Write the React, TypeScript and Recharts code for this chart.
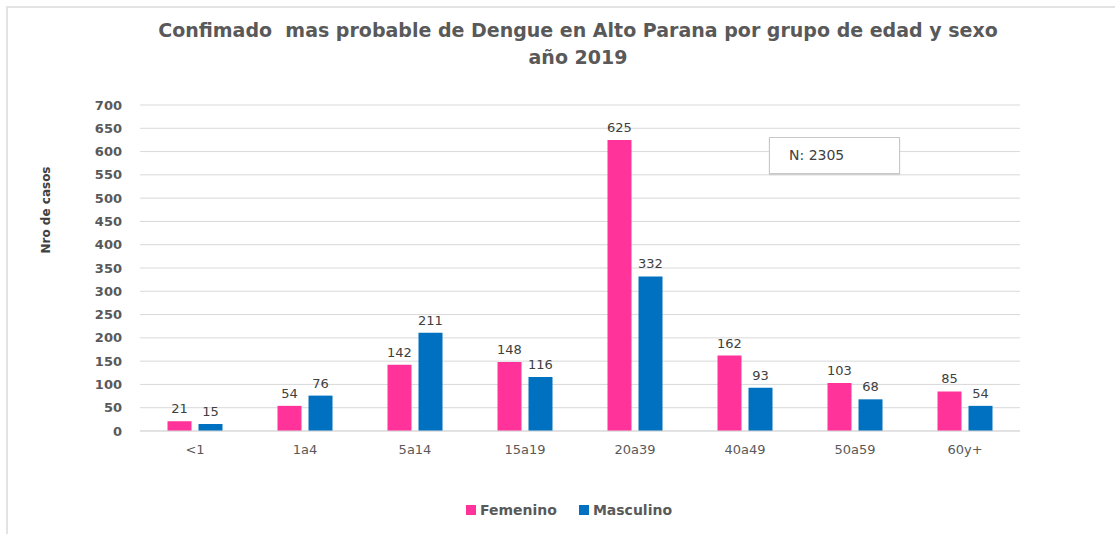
import React from "react";
import { BarChart, Bar, XAxis, YAxis, CartesianGrid, LabelList } from "recharts";

const categories = ["<1", "1a4", "5a14", "15a19", "20a39", "40a49", "50a59", "60y+"];
const femenino = [21, 54, 142, 148, 625, 162, 103, 85];
const masculino = [15, 76, 211, 116, 332, 93, 68, 54];
const yTicks = [0, 50, 100, 150, 200, 250, 300, 350, 400, 450, 500, 550, 600, 650, 700];
const titleLines = ["Confimado  mas probable de Dengue en Alto Parana por grupo de edad y sexo", "año 2019"];
const yLabel = "Nro de casos";
const noteText = "N: 2305";
const series = [
  { key: "Femenino", values: femenino, color: "#FF3399" },
  { key: "Masculino", values: masculino, color: "#0070C0" },
];

const data = categories.map((c, i) => {
  const row: Record<string, string | number> = { name: c };
  series.forEach((s) => {
    row[s.key] = s.values[i];
  });
  return row;
});

const FONT = "'DejaVu Sans', sans-serif";

export default function App() {
  return (
    <div style={{ position: "absolute", left: 0, top: 0, width: 1115, height: 534, background: "#fff", overflow: "hidden" }}>
      <div
        style={{
          position: "absolute",
          left: 6,
          top: 6,
          width: 1115,
          height: 540,
          borderTop: "2px solid #e3e3e3",
          borderLeft: "2px solid #e3e3e3",
        }}
      />
      <div
        style={{
          position: "absolute",
          left: 0,
          top: 17,
          width: 1156,
          textAlign: "center",
          fontFamily: FONT,
          fontWeight: "bold",
          fontSize: 19,
          lineHeight: "27px",
          color: "#595959",
          whiteSpace: "pre",
        }}
      >
        {titleLines.map((t) => (
          <div key={t}>{t}</div>
        ))}
      </div>
      <BarChart
        width={1115}
        height={534}
        data={data}
        margin={{ top: 105, right: 95, bottom: 73, left: 0 }}
        barCategoryGap="25%"
        barGap={7}
        style={{ position: "absolute", left: 0, top: 0 }}
      >
        <CartesianGrid vertical={false} stroke="#d9d9d9" strokeWidth={1} />
        <XAxis
          dataKey="name"
          height={30}
          tickLine={false}
          tickSize={0}
          tickMargin={14}
          axisLine={{ stroke: "#d9d9d9" }}
          tick={{ fill: "#595959", fontSize: 13, fontFamily: FONT }}
          interval={0}
        />
        <YAxis
          width={140}
          domain={[0, 700]}
          ticks={yTicks}
          interval={0}
          tickLine={false}
          axisLine={false}
          tickSize={0}
          tickMargin={18}
          tick={{ fill: "#595959", fontSize: 13, fontFamily: FONT, fontWeight: "bold" }}
          label={{
            value: yLabel,
            angle: -90,
            position: "insideLeft",
            offset: 46,
            dy: -58,
            style: { fill: "#404040", fontSize: 12, fontWeight: "bold", fontFamily: FONT, textAnchor: "middle" },
          }}
        />
        {series.map((s) => (
          <Bar key={s.key} dataKey={s.key} fill={s.color} isAnimationActive={false}>
            <LabelList
              dataKey={s.key}
              position="top"
              offset={8}
              style={{ fill: "#404040", fontSize: 13, fontFamily: FONT }}
            />
          </Bar>
        ))}
      </BarChart>
      <div
        style={{
          position: "absolute",
          left: 769,
          top: 137,
          height: 35,
          border: "1px solid #c8c8c8",
          boxShadow: "0 1px 1px #d0d0d0",
          background: "#fff",
          fontFamily: FONT,
          fontSize: 14,
          color: "#404040",
          lineHeight: "35px",
          paddingLeft: 19,
          boxSizing: "content-box",
          width: 110,
        }}
      >
        {noteText}
      </div>
      <div
        style={{
          position: "absolute",
          left: 0,
          top: 502,
          width: 1138,
          display: "flex",
          justifyContent: "center",
          fontFamily: FONT,
          fontWeight: "bold",
          fontSize: 14,
          color: "#595959",
        }}
      >
        {series.map((s) => (
          <div key={s.key} style={{ display: "flex", alignItems: "center", margin: "0 11px" }}>
            <span style={{ display: "inline-block", width: 10, height: 10, background: s.color, marginRight: 4 }} />
            <span>{s.key}</span>
          </div>
        ))}
      </div>
    </div>
  );
}
